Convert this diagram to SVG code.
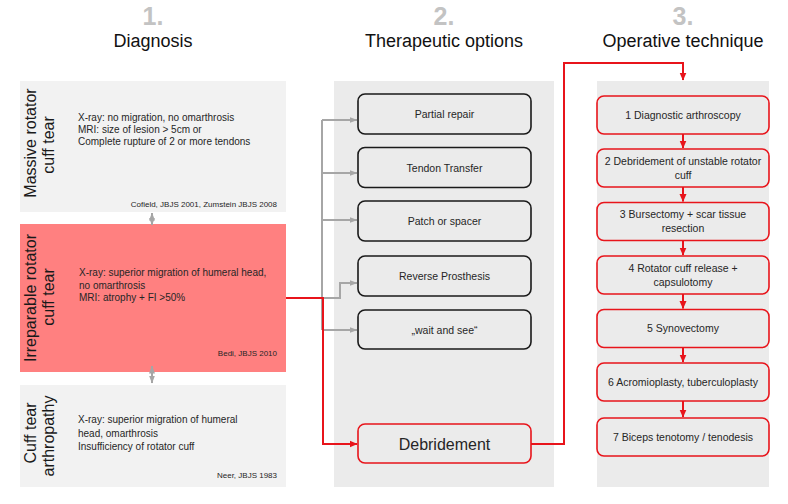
<svg xmlns="http://www.w3.org/2000/svg" width="788" height="504" viewBox="0 0 788 504">
<defs>
<marker id="ag" markerWidth="8" markerHeight="7" refX="7.5" refY="3.5" orient="auto-start-reverse" markerUnits="userSpaceOnUse"><path d="M0,0.5 L8,3.5 L0,6.5 Z" fill="#a6a6a6"/></marker>
<marker id="ar" markerWidth="8" markerHeight="8" refX="7.5" refY="4" orient="auto" markerUnits="userSpaceOnUse"><path d="M0,0.5 L8,4 L0,7.5 Z" fill="#e8141b"/></marker>
<style>
.t{font-family:"Liberation Sans",Arial,sans-serif;fill:#262626}
.num{font-size:25px;fill:#c3c3c3;font-weight:bold;text-anchor:middle}
.hd{font-size:18px;fill:#111;text-anchor:middle}
.side{font-size:16px;fill:#1a1a1a;text-anchor:middle}
.body{font-size:10px}
.cite{font-size:8px;text-anchor:end}
.lbl{font-size:10.5px;text-anchor:middle}
.panelL{fill:#f2f2f2}
.panelR{fill:#ebebeb}
.boxK{fill:#ebebeb;stroke:#1a1a1a;stroke-width:1.6}
.boxR{fill:#ebebeb;stroke:#e8141b;stroke-width:1.6}
.g{fill:none;stroke:#a6a6a6;stroke-width:2}
.r{fill:none;stroke:#e8141b;stroke-width:2}
</style>
</defs>
<rect width="788" height="504" fill="#fff"/>

<g id="headers">
<text class="t num" x="153" y="25">1.</text>
<text class="t hd" x="153" y="47">Diagnosis</text>
<text class="t num" x="444" y="25">2.</text>
<text class="t hd" x="444" y="47">Therapeutic options</text>
<text class="t num" x="683" y="25">3.</text>
<text class="t hd" x="683" y="47">Operative technique</text>
</g>

<g id="panels">
<rect class="panelR" x="334" y="81" width="220" height="406"/>
<rect class="panelR" x="597" y="81" width="172" height="406"/>
</g>

<g id="massive">
<rect class="panelL" x="20" y="81" width="266" height="131"/>
<text class="t side" transform="translate(36,143) rotate(-90)">Massive rotator</text>
<text class="t side" transform="translate(54,145) rotate(-90)">cuff tear</text>
<text class="t body" x="78" y="121">X-ray: no migration, no omarthrosis</text>
<text class="t body" x="78" y="133">MRI: size of lesion &gt; 5cm or</text>
<text class="t body" x="78" y="145">Complete rupture of 2 or more tendons</text>
<text class="t cite" x="277" y="207">Cofield, JBJS 2001, Zumstein JBJS 2008</text>
</g>

<g id="irreparable">
<rect x="20" y="224" width="266" height="148" fill="#ff8080"/>
<text class="t side" transform="translate(36,298) rotate(-90)">Irreparable rotator</text>
<text class="t side" transform="translate(54,297) rotate(-90)">cuff tear</text>
<text class="t body" x="79" y="276">X-ray: superior migration of humeral head,</text>
<text class="t body" x="79" y="288.5">no omarthrosis</text>
<text class="t body" x="79" y="301">MRI: atrophy + FI &gt;50%</text>
<text class="t cite" x="277" y="356">Bedi, JBJS 2010</text>
</g>

<g id="arthropathy">
<rect class="panelL" x="20" y="385" width="266" height="102"/>
<text class="t side" transform="translate(36,433) rotate(-90)">Cuff tear</text>
<text class="t side" transform="translate(54,436) rotate(-90)">arthropathy</text>
<text class="t body" x="78" y="423">X-ray: superior migration of humeral</text>
<text class="t body" x="78" y="436.5">head, omarthrosis</text>
<text class="t body" x="78" y="450">Insufficiency of rotator cuff</text>
<text class="t cite" x="277" y="478">Neer, JBJS 1983</text>
</g>

<g id="partial-repair">
<rect class="boxK" x="358" y="94" width="173" height="40" rx="7"/>
<text class="t lbl" x="444.5" y="118">Partial repair</text>
</g>
<g id="tendon-transfer">
<rect class="boxK" x="358" y="147.5" width="173" height="40" rx="7"/>
<text class="t lbl" x="444.5" y="171.5">Tendon Transfer</text>
</g>
<g id="patch-spacer">
<rect class="boxK" x="358" y="201" width="173" height="40" rx="7"/>
<text class="t lbl" x="444.5" y="225">Patch or spacer</text>
</g>
<g id="reverse-prosthesis">
<rect class="boxK" x="358" y="256" width="173" height="40" rx="7"/>
<text class="t lbl" x="444.5" y="280">Reverse Prosthesis</text>
</g>
<g id="wait-and-see">
<rect class="boxK" x="358" y="310" width="173" height="39" rx="7"/>
<text class="t lbl" x="444.5" y="333.5">„wait and see“</text>
</g>
<g id="debridement">
<rect class="boxR" x="358" y="424" width="173" height="39" rx="7"/>
<text class="t" x="444.5" y="449.5" style="font-size:16px;text-anchor:middle">Debridement</text>
</g>

<g id="step1">
<rect class="boxR" x="597" y="96" width="172" height="38" rx="7"/>
<text class="t lbl" x="683" y="118.5">1 Diagnostic arthroscopy</text>
</g>
<g id="step2">
<rect class="boxR" x="597" y="149" width="172" height="38" rx="7"/>
<text class="t lbl" x="683" y="164.5">2 Debridement of unstable rotator</text>
<text class="t lbl" x="683" y="178.5">cuff</text>
</g>
<g id="step3">
<rect class="boxR" x="597" y="202.5" width="172" height="38" rx="7"/>
<text class="t lbl" x="683" y="218">3 Bursectomy + scar tissue</text>
<text class="t lbl" x="683" y="232">resection</text>
</g>
<g id="step4">
<rect class="boxR" x="597" y="256" width="172" height="38" rx="7"/>
<text class="t lbl" x="683" y="271.5">4 Rotator cuff release +</text>
<text class="t lbl" x="683" y="285.5">capsulotomy</text>
</g>
<g id="step5">
<rect class="boxR" x="597" y="309.5" width="172" height="38" rx="7"/>
<text class="t lbl" x="683" y="332">5 Synovectomy</text>
</g>
<g id="step6">
<rect class="boxR" x="597" y="363" width="172" height="38" rx="7"/>
<text class="t lbl" x="683" y="385.5">6 Acromioplasty, tuberculoplasty</text>
</g>
<g id="step7">
<rect class="boxR" x="597" y="418" width="172" height="38" rx="7"/>
<text class="t lbl" x="683" y="440.5">7 Biceps tenotomy  / tenodesis</text>
</g>

<g id="connectors">
<path class="g" d="M152,213 V225" marker-start="url(#ag)" marker-end="url(#ag)"/>
<path class="g" d="M152,366 V383" marker-start="url(#ag)" marker-end="url(#ag)"/>
<path class="g" d="M322,120 V330"/>
<path class="g" d="M322,120 H357" marker-end="url(#ag)"/>
<path class="g" d="M322,173 H357" marker-end="url(#ag)"/>
<path class="g" d="M322,220 H357" marker-end="url(#ag)"/>
<path class="g" d="M322,298 H340 V283 H357" marker-end="url(#ag)"/>
<path class="g" d="M322,330 H357" marker-end="url(#ag)"/>
<path class="r" d="M286,298 H323 V444 H357" marker-end="url(#ar)"/>
<path class="r" d="M531,444 H564 V63 H683 V80" marker-end="url(#ar)"/>
<path class="r" d="M683,134 V148" marker-end="url(#ar)"/>
<path class="r" d="M683,187 V201.5" marker-end="url(#ar)"/>
<path class="r" d="M683,240.5 V255" marker-end="url(#ar)"/>
<path class="r" d="M683,294 V308.5" marker-end="url(#ar)"/>
<path class="r" d="M683,347.5 V362" marker-end="url(#ar)"/>
<path class="r" d="M683,401 V417" marker-end="url(#ar)"/>
</g>
</svg>
